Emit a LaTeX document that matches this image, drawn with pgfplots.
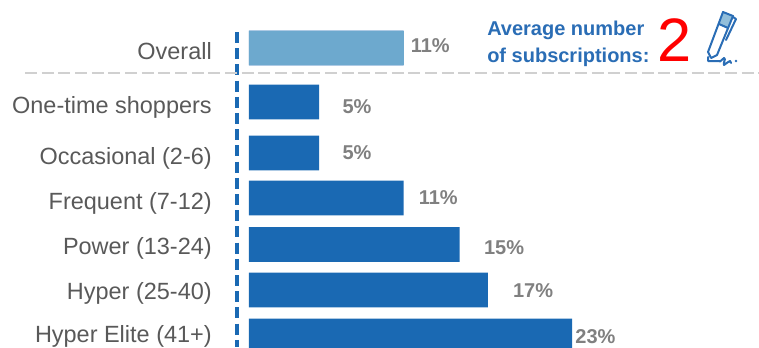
\documentclass[border=0pt]{standalone}
\usepackage{pgfplots}
\pgfplotsset{compat=1.18}
\usepackage{pgfplotstable}
\usepackage{fontspec}
\setmainfont{Liberation Sans}
\definecolor{barblue}{HTML}{1A69B3}
\definecolor{overallblue}{HTML}{6DA9CE}
\definecolor{headblue}{HTML}{2A6DB5}
\definecolor{labelgray}{HTML}{808080}
\definecolor{catgray}{HTML}{595959}
\definecolor{rulegray}{HTML}{D0D0D0}
% y: row position, share: percent of shoppers, dx/dy: label offset from the bar end in px
\pgfplotstableread{
y share dx dy
48 11 7 2
102 5 23 -5
153 5 23 0
198 11 15 0
244.5 15 24 -3
290 17 25 -1
336 23 3 -1
}\shares
\begin{document}
\begin{tikzpicture}[x=0.75pt,y=-0.75pt]
\useasboundingbox (0,0) rectangle (759,347);
\begin{axis}[
  at={(172.5pt,-260.25pt)}, anchor=south west,
  scale only axis, width=396.75pt, height=260.25pt,
  xmin=-1.352, xmax=36.3, ymin=0, ymax=347, y dir=reverse,
  axis line style={draw=none}, major tick length=0pt,
  xtick=\empty,
  ytick={51,107,158,203,248.5,293,336.5},
  yticklabels={Overall,One-time shoppers,Occasional (2-6),Frequent (7-12),Power (13-24),Hyper (25-40),Hyper Elite (41+)},
  yticklabel style={font=\fontsize{17.6pt}{20pt}\selectfont, text=catgray, xshift=-13.5pt, anchor=east, inner sep=0pt},
  clip=true,
  /pgf/number format/assume math mode=true,
]
\addplot[xbar, bar shift=0pt, bar width=26pt, draw=none, fill=barblue,
  visualization depends on={\thisrow{dx} \as \dx},
  visualization depends on={\thisrow{dy} \as \dy},
  point meta=x,
  nodes near coords={\pgfmathprintnumber{\pgfplotspointmeta}\%},
  every node near coord/.append style={font=\fontsize{15pt}{16pt}\selectfont\bfseries, text=labelgray, anchor=west, inner sep=0pt, xshift=0.75pt*\dx, yshift=0.75pt*\dy},
] table[x=share,y=y] {\shares};
% the overall row stands out in a lighter blue
\addplot[xbar, bar shift=0pt, bar width=25.5pt, draw=none, fill=overallblue] coordinates {(11,48)};
\draw[barblue, line width=3pt, dash pattern=on 8.25pt off 3.9pt] (axis cs:-0.82,32) -- (axis cs:-0.82,347);
\end{axis}
\draw[rulegray, line width=1.9pt, dash pattern=on 9pt off 3.5pt] (25,73) -- (759,73);
\node[anchor=west, align=left, inner sep=0pt, text=headblue, font=\fontsize{15pt}{20pt}\selectfont\bfseries] at (487,44) {Average number\\of subscriptions:};
\node[anchor=center, inner sep=0pt, text=red, font=\fontsize{46pt}{46pt}\selectfont] at (675,40) {2};
% pen icon
\begin{scope}[headblue, line width=1.5pt, line join=round, line cap=round]
\fill[overallblue!75] (724,12) -- (733,16) -- (728,28) -- (719,24) -- cycle;
\draw (708,52) -- (723,12) -- (733,16) -- (717,55) -- (711,58) -- cycle;
\draw (719,24) -- (728,28);
\draw (733,17) -- (736,19) -- (726,40);
\draw (708,57) -- (708,61) -- (719,61) to[out=-60,in=200] (724,58) to[out=-20,in=120] (724,65) to[out=30,in=200] (730,61) -- (731,63);
\fill (736,61) circle (1pt);
\end{scope}
\end{tikzpicture}
\end{document}
